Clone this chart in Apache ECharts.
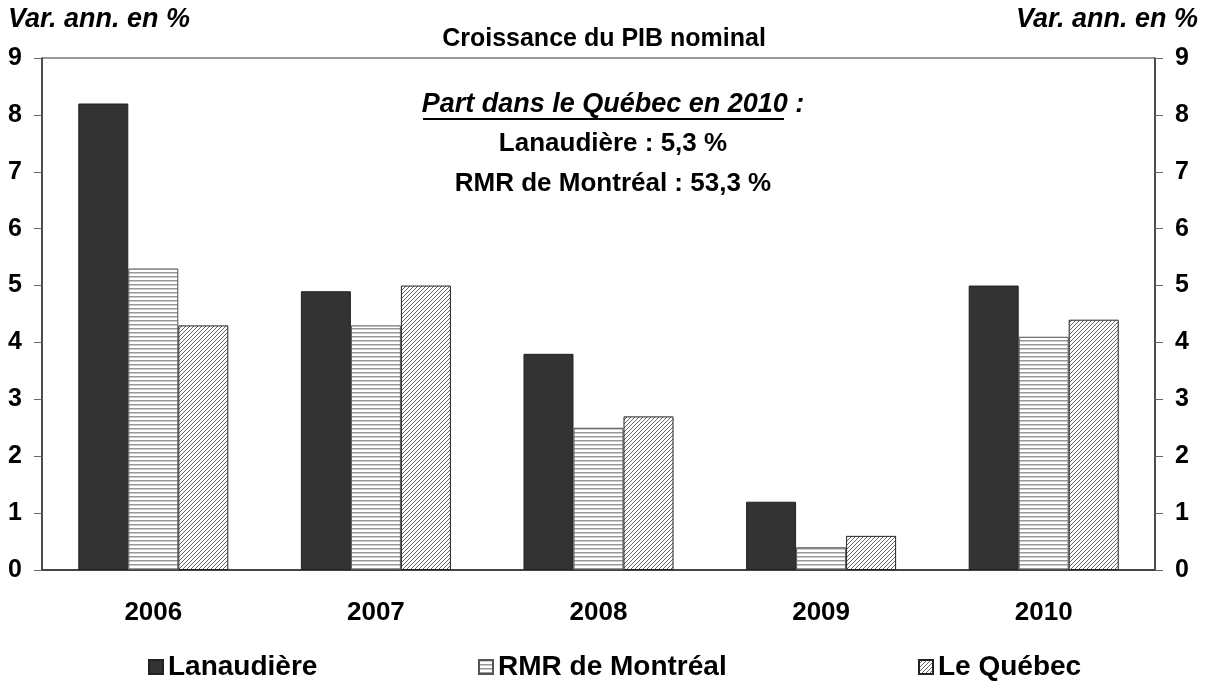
<!DOCTYPE html>
<html lang="fr">
<head>
  <meta charset="UTF-8">
  <title>Croissance du PIB nominal</title>
  <script src="https://cdn.jsdelivr.net/npm/echarts@6/dist/echarts.min.js"></script>
  <style>
    html, body { margin: 0; padding: 0; background: #fff; }
    #main { width: 1208px; height: 686px; }
  </style>
</head>
<body>
  <div id="main"></div>
  <script type="text/javascript">
    var years = ['2006', '2007', '2008', '2009', '2010'];
    var lanaudiere = [8.2, 4.9, 3.8, 1.2, 5.0];
    var rmrMontreal = [5.3, 4.3, 2.5, 0.4, 4.1];
    var quebec = [4.3, 5.0, 2.7, 0.6, 4.4];
    var yTicks = [0, 1, 2, 3, 4, 5, 6, 7, 8, 9];

    var font = 'Arial, "Liberation Sans", sans-serif';

    // horizontal stripes for RMR
    function stripes() {
      var c = document.createElement('canvas');
      c.width = 8; c.height = 4;
      var ctx = c.getContext('2d');
      ctx.fillStyle = '#fff';
      ctx.fillRect(0, 0, 8, 4);
      ctx.fillStyle = '#999';
      ctx.fillRect(0, 0, 8, 1.5);
      return c;
    }
    // diagonal hatch for Quebec
    function hatch() {
      var s = 4;
      var c = document.createElement('canvas');
      c.width = s; c.height = s;
      var ctx = c.getContext('2d');
      ctx.fillStyle = '#fff';
      ctx.fillRect(0, 0, s, s);
      ctx.strokeStyle = '#666';
      ctx.lineWidth = 1;
      ctx.beginPath();
      ctx.moveTo(0, s); ctx.lineTo(s, 0);
      ctx.moveTo(-1, 1); ctx.lineTo(1, -1);
      ctx.moveTo(s - 1, s + 1); ctx.lineTo(s + 1, s - 1);
      ctx.stroke();
      return c;
    }

    var chart = echarts.init(document.getElementById('main'));

    var axisLabelStyle = { color: '#000', fontFamily: font, fontWeight: 'bold', fontSize: 25 };
    var yAxisCommon = {
      type: 'value', min: 0, max: 9, interval: 1,
      axisLine: { show: true, lineStyle: { color: '#333', width: 1.5 } },
      axisTick: { show: true, length: 8, lineStyle: { color: '#666' } },
      splitLine: { show: false },
      axisLabel: Object.assign({ margin: 20, formatter: function (v) { return yTicks.indexOf(v) >= 0 ? v : ''; } }, axisLabelStyle)
    };

    var option = {
      backgroundColor: '#fff',
      animation: false,
      title: {
        text: 'Croissance du PIB nominal',
        left: 'center', top: 22,
        textStyle: { fontFamily: font, fontWeight: 'bold', fontSize: 25, color: '#000' }
      },
      grid: {
        left: 42, right: 53, top: 58, bottom: 116,
        show: true, borderColor: '#333', borderWidth: 1
      },
      legend: [
        { data: ['Lanaudière'], left: 143, top: 648 },
        { data: ['RMR de Montréal'], left: 473, top: 648 },
        { data: ['Le Québec'], left: 913, top: 648 }
      ].map(function (l) {
        return Object.assign(l, {
          icon: 'rect', itemWidth: 14, itemHeight: 14, itemGap: 6,
          textStyle: { fontFamily: font, fontWeight: 'bold', fontSize: 28, color: '#000' }
        });
      }),
      xAxis: {
        type: 'category', data: years,
        axisLine: { lineStyle: { color: '#444', width: 2 } },
        axisTick: { show: false },
        axisLabel: Object.assign({ margin: 30 }, axisLabelStyle, { fontSize: 26 })
      },
      yAxis: [
        Object.assign({ position: 'left' }, yAxisCommon),
        Object.assign({ position: 'right' }, yAxisCommon)
      ],
      series: [
        {
          name: 'Lanaudière', type: 'bar', data: lanaudiere,
          barGap: '0%', barCategoryGap: '32.6%',
          itemStyle: { color: '#333333', borderColor: '#222', borderWidth: 1 }
        },
        {
          name: 'RMR de Montréal', type: 'bar', data: rmrMontreal,
          itemStyle: { color: { image: stripes(), repeat: 'repeat' }, borderColor: '#555', borderWidth: 1 }
        },
        {
          name: 'Le Québec', type: 'bar', data: quebec,
          itemStyle: { color: { image: hatch(), repeat: 'repeat' }, borderColor: '#222', borderWidth: 1 }
        }
      ],
      graphic: [
        {
          type: 'text', left: 8, top: 6,
          style: { text: 'Var. ann. en %', fontFamily: font, fontWeight: 'bold', fontStyle: 'italic', fontSize: 27, fill: '#000' }
        },
        {
          type: 'text', right: 10, top: 6,
          style: { text: 'Var. ann. en %', fontFamily: font, fontWeight: 'bold', fontStyle: 'italic', fontSize: 27, fill: '#000' }
        },
        {
          type: 'text', x: 613, y: 105,
          style: {
            text: 'Part dans le Québec en 2010 :', align: 'center', verticalAlign: 'middle',
            fontFamily: font, fontWeight: 'bold', fontStyle: 'italic', fontSize: 27, fill: '#000'
          }
        },
        {
          type: 'line', shape: { x1: 423, y1: 119, x2: 784, y2: 119 },
          style: { stroke: '#000', lineWidth: 2 }
        },
        {
          type: 'text', x: 613, y: 144,
          style: {
            text: 'Lanaudière : 5,3 %', align: 'center', verticalAlign: 'middle',
            fontFamily: font, fontWeight: 'bold', fontSize: 26, fill: '#000'
          }
        },
        {
          type: 'text', x: 613, y: 184,
          style: {
            text: 'RMR de Montréal : 53,3 %', align: 'center', verticalAlign: 'middle',
            fontFamily: font, fontWeight: 'bold', fontSize: 26, fill: '#000'
          }
        }
      ]
    };

    chart.setOption(option);
  </script>
</body>
</html>
